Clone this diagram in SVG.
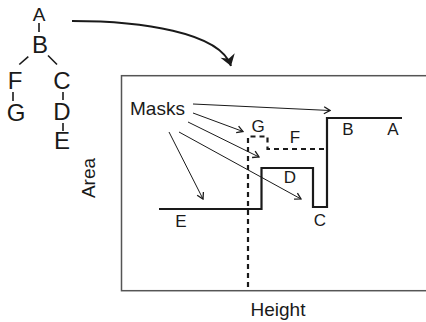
<svg xmlns="http://www.w3.org/2000/svg" width="426" height="322" viewBox="0 0 426 322">
<style>
text{font-family:"Liberation Sans",Arial,sans-serif;fill:#1a1a1a}
.t{font-size:24px;text-anchor:middle}
.l{font-size:17px;text-anchor:middle}
.ax{font-size:19px}
.tl{stroke:#1a1a1a;stroke-width:1.6;fill:none}
.thin{stroke:#1a1a1a;stroke-width:1;fill:none;marker-end:url(#open)}
.step{stroke:#1a1a1a;stroke-width:2.2;fill:none}
.dash{stroke:#1a1a1a;stroke-width:2.2;fill:none;stroke-dasharray:5 4}
</style>
<defs>
<marker id="open" viewBox="-8 -5 9 10" refX="0" refY="0" markerWidth="9" markerHeight="10" markerUnits="userSpaceOnUse" orient="auto">
<path d="M-6,-3.5 L0,0 L-6,3.5" fill="none" stroke="#1a1a1a" stroke-width="1.3"/>
</marker>
<marker id="solid" viewBox="-12 -8 13 16" refX="0" refY="0" markerWidth="13" markerHeight="16" markerUnits="userSpaceOnUse" orient="auto">
<path d="M0,0 L-11,-7.5 L-7.5,0 L-11,7.5 Z" fill="#1a1a1a"/>
</marker>
</defs>
<g id="tree">
<g id="tA"><text class="t" x="39" y="21" style="font-size:19px">A</text></g>
<g id="tB"><text class="t" x="40" y="53">B</text></g>
<g id="tF"><text class="t" x="15" y="89">F</text></g>
<g id="tG"><text class="t" x="16" y="121">G</text></g>
<g id="tC"><text class="t" x="62" y="89">C</text></g>
<g id="tD"><text class="t" x="62" y="120">D</text></g>
<g id="tE"><text class="t" x="62" y="149">E</text></g>
</g>
<g id="connectors">
<line class="tl" x1="39" y1="23" x2="39" y2="32"/>
<line class="tl" x1="28.3" y1="56.7" x2="19.3" y2="64.5"/>
<line class="tl" x1="48" y1="55.5" x2="57" y2="64.5"/>
<line class="tl" x1="13" y1="92" x2="13" y2="101"/>
<line class="tl" x1="63" y1="92" x2="63" y2="100"/>
<line class="tl" x1="63" y1="123" x2="63" y2="131"/>
<path d="M72,21 C140,21 220,32 231,66" stroke="#1a1a1a" stroke-width="2" fill="none" marker-end="url(#solid)"/>
<line class="thin" x1="193" y1="104" x2="330" y2="110.5"/>
<line class="thin" x1="193" y1="113" x2="243" y2="131.5"/>
<line class="thin" x1="188" y1="122" x2="259" y2="157"/>
<line class="thin" x1="179" y1="132" x2="301" y2="199"/>
<line class="thin" x1="169" y1="132" x2="203" y2="199"/>
</g>
<g id="plot">
<rect x="121.5" y="75.7" width="320" height="215" fill="none" stroke="#555" stroke-width="1.5"/>
<text class="ax" x="278" y="316" text-anchor="middle">Height</text>
<text class="ax" transform="translate(95,178) rotate(-90)" text-anchor="middle">Area</text>
<text class="ax" x="130" y="114.5">Masks</text>
<path class="step" d="M159,209 H261.5 V168 H313 V207 H327 V118 H402"/>
<path class="dash" d="M248,287 V136.5 H267.5 V149 H327"/>
<g id="lG"><text class="l" x="258" y="132">G</text></g>
<g id="lF"><text class="l" x="295" y="143">F</text></g>
<g id="lB"><text class="l" x="348" y="135">B</text></g>
<g id="lA"><text class="l" x="393" y="135">A</text></g>
<g id="lD"><text class="l" x="290" y="183">D</text></g>
<g id="lE"><text class="l" x="181" y="227">E</text></g>
<g id="lC"><text class="l" x="320" y="226">C</text></g>
</g>
</svg>
